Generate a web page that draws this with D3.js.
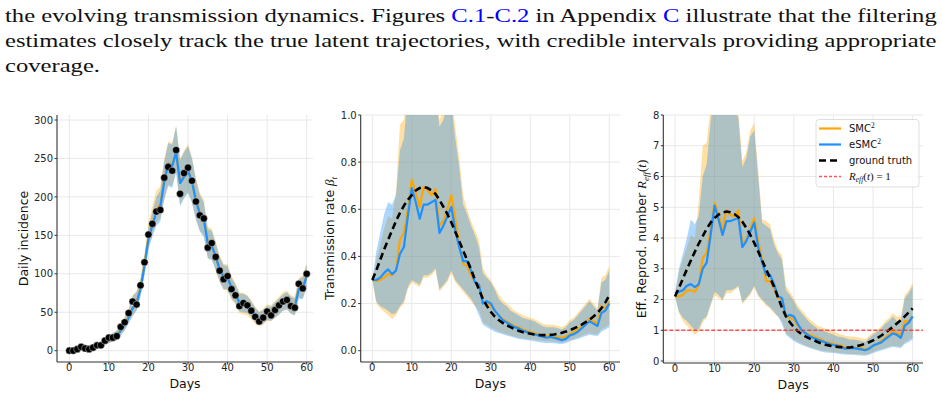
<!DOCTYPE html>
<html>
<head>
<meta charset="utf-8">
<script src="https://cdn.jsdelivr.net/npm/d3@7"></script>
<style>
  body { margin: 0; background: #fff; }
</style>
</head>
<body>
<svg id="fig" width="942" height="397"></svg>
<script>
// ---- data ----
const days = d3.range(0, 61);
const dayTicks = [0, 10, 20, 30, 40, 50, 60];

// daily incidence: observations and filtered predictions
const observed = [0,0,2,5,3,2,4,7,7,13,17,17,19,31,37,49,64,60,85,115,151,165,181,183,225,239,234,261,204,231,238,221,194,176,172,134,140,122,104,93,97,80,72,58,62,59,52,44,38,43,51,46,53,59,64,66,58,56,87,81,100];
const incEsmc = [0,1,2,3,4,4,5,6,8,11,14,17,19,26,33,43,55,62,80,110,145,163,180,187,220,243,240,258,218,226,234,220,195,178,170,140,137,122,106,96,95,82,74,62,62,60,54,47,41,44,49,48,53,58,63,65,59,57,80,81,97];
const incEsmcLo = [0,0,1,2,2,2,3,4,5,8,10,12,14,20,26,36,44,52,70,98,132,148,162,168,196,214,212,232,188,198,205,192,170,155,148,120,118,105,90,80,80,68,62,51,50,49,44,38,33,35,40,39,43,47,52,54,48,46,68,67,82];
const incEsmcHi = [1,2,4,5,6,7,8,10,12,16,20,23,26,34,42,53,71,76,92,122,160,180,200,208,246,270,268,292,248,258,266,250,222,202,193,158,156,140,122,111,110,95,86,74,74,71,64,56,50,53,58,57,63,68,73,76,70,68,93,96,112];
const incSmc = [0,1,2,3,4,4,5,6,8,11,14,17,20,27,34,44,56,63,82,112,148,166,184,190,222,244,241,258,220,228,235,221,197,180,172,142,139,123,107,97,96,83,75,63,61,59,53,46,40,43,48,48,53,58,64,66,60,58,82,82,98];
const incSmcLo = [0,0,1,2,2,2,3,4,5,8,10,12,14,21,27,37,46,53,72,100,135,151,166,172,198,216,214,233,190,200,206,193,172,156,149,121,119,104,89,79,78,66,60,49,47,46,41,35,31,34,39,38,43,47,52,54,48,46,69,68,83];
const incSmcHi = [1,2,4,5,6,7,8,10,12,16,20,23,27,35,44,55,72,78,95,126,166,188,208,214,250,272,270,293,250,260,268,252,225,205,196,161,159,142,124,113,112,97,88,76,75,72,66,57,51,55,60,59,65,70,76,78,72,70,95,98,114];

// transmission rate beta_t
const betaTruth = [0.30,0.34,0.385,0.43,0.47,0.51,0.55,0.585,0.615,0.64,0.66,0.68,0.69,0.695,0.69,0.68,0.665,0.64,0.61,0.58,0.545,0.505,0.465,0.425,0.385,0.345,0.30,0.26,0.22,0.19,0.165,0.145,0.13,0.118,0.108,0.10,0.092,0.085,0.079,0.075,0.072,0.069,0.067,0.066,0.066,0.067,0.069,0.072,0.076,0.081,0.087,0.094,0.102,0.111,0.121,0.132,0.145,0.16,0.18,0.205,0.235];
const betaEsmc = [0.30,0.30,0.31,0.33,0.345,0.325,0.34,0.41,0.44,0.57,0.69,0.63,0.56,0.62,0.62,0.63,0.64,0.50,0.53,0.57,0.61,0.51,0.44,0.38,0.38,0.34,0.29,0.28,0.20,0.21,0.20,0.17,0.15,0.13,0.12,0.11,0.10,0.095,0.085,0.08,0.075,0.07,0.065,0.06,0.055,0.058,0.055,0.05,0.045,0.05,0.065,0.07,0.08,0.095,0.11,0.125,0.115,0.105,0.16,0.17,0.20];
const betaEsmcLo = [0.30,0.21,0.19,0.18,0.17,0.155,0.16,0.19,0.21,0.27,0.30,0.29,0.28,0.32,0.32,0.33,0.35,0.26,0.28,0.30,0.34,0.30,0.28,0.26,0.24,0.22,0.19,0.15,0.11,0.10,0.09,0.08,0.075,0.07,0.065,0.06,0.055,0.05,0.048,0.045,0.043,0.04,0.037,0.035,0.033,0.033,0.032,0.03,0.028,0.032,0.04,0.045,0.05,0.056,0.062,0.068,0.064,0.062,0.08,0.09,0.10];
const betaEsmcHi = [0.30,0.42,0.50,0.58,0.63,0.62,0.66,0.85,0.90,1.10,1.25,1.20,1.15,1.20,1.20,1.15,1.10,0.95,0.98,1.05,1.05,0.90,0.78,0.62,0.58,0.53,0.49,0.44,0.33,0.31,0.29,0.26,0.22,0.20,0.19,0.17,0.16,0.15,0.14,0.135,0.13,0.125,0.115,0.105,0.10,0.10,0.10,0.095,0.09,0.10,0.12,0.13,0.15,0.17,0.19,0.21,0.19,0.17,0.29,0.30,0.34];
const betaSmc = [0.30,0.295,0.30,0.31,0.325,0.32,0.34,0.47,0.50,0.60,0.725,0.67,0.61,0.695,0.68,0.66,0.685,0.53,0.55,0.60,0.66,0.56,0.45,0.37,0.36,0.32,0.29,0.28,0.21,0.20,0.19,0.17,0.15,0.135,0.125,0.115,0.105,0.10,0.09,0.085,0.08,0.075,0.07,0.065,0.063,0.062,0.06,0.058,0.055,0.06,0.07,0.08,0.09,0.105,0.12,0.135,0.125,0.115,0.19,0.18,0.21];
const betaSmcLo = [0.30,0.20,0.18,0.165,0.15,0.135,0.15,0.18,0.20,0.26,0.29,0.28,0.27,0.31,0.31,0.32,0.34,0.25,0.27,0.29,0.33,0.29,0.27,0.25,0.23,0.21,0.19,0.17,0.12,0.11,0.10,0.09,0.08,0.075,0.07,0.065,0.06,0.056,0.053,0.05,0.048,0.046,0.044,0.042,0.04,0.04,0.038,0.036,0.034,0.038,0.046,0.05,0.056,0.062,0.07,0.075,0.07,0.068,0.09,0.10,0.11];
const betaSmcHi = [0.30,0.38,0.45,0.52,0.57,0.56,0.68,0.96,0.98,1.15,1.30,1.25,1.20,1.25,1.25,1.20,1.15,0.98,1.02,1.10,1.10,0.95,0.82,0.66,0.60,0.55,0.51,0.47,0.35,0.32,0.30,0.27,0.24,0.215,0.20,0.185,0.17,0.16,0.15,0.145,0.14,0.135,0.125,0.115,0.11,0.11,0.11,0.105,0.10,0.11,0.13,0.14,0.16,0.18,0.20,0.22,0.20,0.18,0.31,0.32,0.36];

// effective reproduction number R_eff(t)
const rTruth = [2.1,2.38,2.68,2.98,3.27,3.55,3.82,4.06,4.3,4.5,4.65,4.76,4.83,4.86,4.84,4.78,4.68,4.53,4.33,4.1,3.84,3.56,3.27,2.98,2.7,2.42,2.07,1.74,1.45,1.26,1.1,0.97,0.87,0.79,0.73,0.68,0.62,0.57,0.53,0.5,0.48,0.46,0.45,0.44,0.44,0.46,0.49,0.52,0.56,0.61,0.67,0.74,0.82,0.91,1.01,1.11,1.22,1.33,1.45,1.58,1.71];
const rEsmc = [2.2,2.25,2.3,2.45,2.5,2.4,2.5,3.0,3.2,4.1,5.05,4.6,4.1,4.55,4.55,4.6,4.65,3.7,3.9,4.2,4.5,3.7,3.2,2.8,2.8,2.5,2.1,2.05,1.45,1.5,1.45,1.2,1.0,0.9,0.8,0.75,0.7,0.65,0.6,0.55,0.52,0.5,0.45,0.4,0.42,0.42,0.4,0.38,0.35,0.4,0.5,0.55,0.6,0.7,0.8,0.9,0.85,0.75,1.15,1.25,1.45];
const rEsmcLo = [2.1,1.6,1.4,1.3,1.15,1.0,1.05,1.35,1.45,1.85,2.25,2.15,2.0,2.3,2.3,2.35,2.45,1.9,2.05,2.2,2.45,2.15,2.0,1.85,1.75,1.6,1.45,1.2,0.85,0.75,0.65,0.58,0.52,0.47,0.42,0.38,0.34,0.3,0.28,0.27,0.26,0.24,0.22,0.21,0.2,0.2,0.19,0.18,0.17,0.2,0.26,0.3,0.34,0.38,0.42,0.46,0.44,0.42,0.55,0.62,0.7];
const rEsmcHi = [2.2,3.0,3.5,4.0,4.6,4.45,4.7,6.0,6.4,7.8,8.8,8.5,8.2,8.5,8.5,8.2,7.9,6.3,6.6,7.3,7.5,6.0,4.5,4.4,4.3,3.8,3.5,3.3,2.3,2.15,1.95,1.7,1.55,1.4,1.25,1.15,1.05,1.0,0.95,0.9,0.85,0.8,0.78,0.75,0.7,0.7,0.68,0.65,0.62,0.75,0.85,0.95,1.05,1.2,1.3,1.45,1.3,1.3,2.05,2.2,2.45];
const rSmc = [2.1,2.1,2.15,2.3,2.3,2.25,2.45,3.35,3.5,4.3,5.15,4.75,4.3,4.9,4.75,4.7,4.9,3.8,3.95,4.3,4.65,3.9,3.3,2.6,2.6,2.35,2.05,2.0,1.45,1.4,1.35,1.15,1.0,0.9,0.85,0.8,0.75,0.7,0.62,0.6,0.55,0.53,0.5,0.45,0.45,0.44,0.42,0.42,0.38,0.42,0.5,0.55,0.65,0.75,0.85,1.0,0.9,0.85,1.3,1.3,1.45];
const rSmcLo = [2.1,1.55,1.3,1.15,1.0,0.85,0.95,1.25,1.4,1.8,2.15,2.05,1.95,2.2,2.2,2.3,2.4,1.85,2.0,2.15,2.4,2.1,1.95,1.8,1.7,1.55,1.45,1.3,0.9,0.8,0.7,0.62,0.56,0.5,0.45,0.41,0.37,0.34,0.32,0.3,0.29,0.27,0.26,0.24,0.23,0.23,0.22,0.21,0.2,0.23,0.3,0.34,0.38,0.42,0.46,0.5,0.48,0.46,0.6,0.68,0.76];
const rSmcHi = [2.2,2.9,3.3,3.7,4.1,4.0,5.2,7.0,7.1,8.3,9.0,8.8,8.5,8.8,8.8,8.5,8.1,6.5,6.8,7.5,7.75,6.2,4.6,4.55,4.45,3.95,3.6,3.45,2.45,2.25,2.05,1.8,1.65,1.5,1.35,1.25,1.15,1.1,1.05,1.0,0.95,0.9,0.85,0.82,0.8,0.8,0.78,0.75,0.7,0.82,0.92,1.02,1.12,1.28,1.4,1.55,1.45,1.45,2.15,2.3,2.55];

const incTicks = [0, 50, 100, 150, 200, 250, 300];
const betaTicks = [0.0, 0.2, 0.4, 0.6, 0.8, 1.0];
const rTicks = [0, 1, 2, 3, 4, 5, 6, 7, 8];
const legendLabels = ["SMC", "eSMC", "ground truth", "R_eff(t) = 1"];

// ---- style ----
const cOrange = "#ffa500", cBlue = "#1e90ff";
const bandAlpha = 0.36;
const blueLink = "#0000ff";
const sans = "'DejaVu Sans', sans-serif";
const serif = "'Liberation Serif', serif";

const svg = d3.select("#fig");

// ---- paragraph text above the figure ----
const para = svg.append("g");
const paraLines = [];
function textLine(y, parts, justify) {
  const t = para.append("text").attr("x", 0).attr("y", 0)
    .attr("font-family", serif).attr("font-size", 18).attr("fill", "#111");
  parts.forEach(p => {
    t.append("tspan").attr("fill", p[1] ? blueLink : "#111").text(p[0]);
  });
  paraLines.push({t, y, justify, len: t.node().getComputedTextLength()});
}
textLine(21.5, [["the evolving transmission dynamics.  Figures ", 0], ["C.1", 1], ["-", 0], ["C.2", 1], [" in Appendix ", 0], ["C", 1], [" illustrate that the filtering", 0]], true);
textLine(46.5, [["estimates closely track the true latent trajectories, with credible intervals providing appropriate", 0]], true);
textLine(71.5, [["coverage.", 0]], false);
// justified lines are stretched as a whole to the text width (the TeX font is wider than Liberation Serif)
const fullScales = paraLines.filter(l => l.justify).map(l => 932 / l.len);
const meanScale = d3.mean(fullScales);
paraLines.forEach(l => {
  const s = l.justify ? 932 / l.len : meanScale;
  l.t.attr("transform", `translate(5,${l.y}) scale(${s},1)`);
});

// ---- panels ----
function drawPanel(cfg) {
  const g = svg.append("g");
  const x = d3.scaleLinear().domain([0, 60]).range(cfg.xr);
  const y = d3.scaleLinear().domain(cfg.yd).range(cfg.yr);
  const top = 115;

  const clipId = "clip-" + cfg.name;
  svg.append("clipPath").attr("id", clipId).append("rect")
    .attr("x", cfg.left).attr("y", top).attr("width", cfg.right - cfg.left).attr("height", cfg.bottom - top);

  // grid
  g.selectAll(".gx").data(dayTicks).join("line")
    .attr("x1", d => x(d)).attr("x2", d => x(d)).attr("y1", top).attr("y2", cfg.bottom)
    .attr("stroke", "#e8e8e8").attr("stroke-width", 1);
  g.selectAll(".gy").data(cfg.ticks).join("line")
    .attr("x1", cfg.left).attr("x2", cfg.right).attr("y1", d => y(d)).attr("y2", d => y(d))
    .attr("stroke", "#e8e8e8").attr("stroke-width", 1);

  const plot = g.append("g").attr("clip-path", "url(#" + clipId + ")");
  const area = (lo, hi) => d3.area().x((d, i) => x(days[i])).y0((d, i) => y(lo[i])).y1((d, i) => y(hi[i]))(days);
  const line = arr => d3.line().x((d, i) => x(days[i])).y((d, i) => y(arr[i]))(days);

  plot.append("path").attr("d", area(cfg.smcLo, cfg.smcHi)).attr("fill", cOrange).attr("fill-opacity", bandAlpha);
  plot.append("path").attr("d", area(cfg.esmcLo, cfg.esmcHi)).attr("fill", cBlue).attr("fill-opacity", bandAlpha);
  plot.append("path").attr("d", line(cfg.smc)).attr("fill", "none").attr("stroke", cOrange).attr("stroke-width", 2.2).attr("stroke-linejoin", "round");
  plot.append("path").attr("d", line(cfg.esmc)).attr("fill", "none").attr("stroke", cBlue).attr("stroke-width", 2.2).attr("stroke-linejoin", "round");
  if (cfg.truth) {
    plot.append("path").attr("d", line(cfg.truth)).attr("fill", "none").attr("stroke", "#000")
      .attr("stroke-width", 2.6).attr("stroke-dasharray", "7,4");
  }
  if (cfg.refLine != null) {
    plot.append("line").attr("x1", cfg.left).attr("x2", cfg.right).attr("y1", y(cfg.refLine)).attr("y2", y(cfg.refLine))
      .attr("stroke", "#ff2a2a").attr("stroke-opacity", 0.8).attr("stroke-width", 1.3).attr("stroke-dasharray", "4,2");
  }
  if (cfg.obs) {
    plot.selectAll("circle").data(cfg.obs).join("circle")
      .attr("cx", (d, i) => x(days[i])).attr("cy", d => y(d)).attr("r", 3.6)
      .attr("fill", "#000").attr("stroke", "#fff").attr("stroke-width", 0.4);
  }

  // spines
  g.append("line").attr("x1", cfg.left).attr("x2", cfg.left).attr("y1", top).attr("y2", cfg.bottom).attr("stroke", "#333").attr("stroke-width", 1.1);
  g.append("line").attr("x1", cfg.left).attr("x2", cfg.right).attr("y1", cfg.bottom).attr("y2", cfg.bottom).attr("stroke", "#333").attr("stroke-width", 1.1);

  // ticks + labels
  g.selectAll(".tx").data(dayTicks).join("line")
    .attr("x1", d => x(d)).attr("x2", d => x(d)).attr("y1", cfg.bottom).attr("y2", cfg.bottom + 2.5).attr("stroke", "#333");
  g.selectAll(".lx").data(dayTicks).join("text")
    .attr("x", d => x(d)).attr("y", cfg.bottom + 9).attr("text-anchor", "middle")
    .attr("font-family", sans).attr("font-size", 10).attr("fill", "#262626").text(d => d);
  g.selectAll(".ty").data(cfg.ticks).join("line")
    .attr("x1", cfg.left - 2.5).attr("x2", cfg.left).attr("y1", d => y(d)).attr("y2", d => y(d)).attr("stroke", "#333");
  g.selectAll(".ly").data(cfg.ticks).join("text")
    .attr("x", cfg.left - 4).attr("y", d => y(d) + 3.6).attr("text-anchor", "end")
    .attr("font-family", sans).attr("font-size", 10).attr("fill", "#262626").text(d => cfg.fmt(d));

  g.append("text").attr("x", (cfg.left + cfg.right) / 2).attr("y", cfg.bottom + 26)
    .attr("text-anchor", "middle").attr("font-family", sans).attr("font-size", 12.5).attr("fill", "#111").text("Days");

  const yl = g.append("text").attr("transform", `translate(${cfg.ylabX},${(top + cfg.bottom) / 2}) rotate(-90)`)
    .attr("text-anchor", "middle").attr("font-family", sans).attr("font-size", 12.5).attr("fill", "#111");
  cfg.ylabel(yl);
  return {g, x, y};
}

function mathR(t, size, subSize, shift, tail) {
  t.append("tspan").attr("font-family", serif).attr("font-style", "italic").attr("font-size", size).text("R");
  t.append("tspan").attr("dy", shift).attr("font-family", serif).attr("font-style", "italic").attr("font-size", subSize).text("eff");
  t.append("tspan").attr("dy", -shift).attr("font-family", serif).attr("font-size", size).text("(");
  t.append("tspan").attr("font-family", serif).attr("font-style", "italic").attr("font-size", size).text("t");
  t.append("tspan").attr("font-family", serif).attr("font-size", size).text(")" + tail);
}

drawPanel({
  name: "inc", left: 57, right: 313, bottom: 362, xr: [69.3, 306.7], yd: [0, 300], yr: [350.7, 120],
  ticks: incTicks, fmt: d3.format("d"), ylabX: 28,
  smc: incSmc, smcLo: incSmcLo, smcHi: incSmcHi, esmc: incEsmc, esmcLo: incEsmcLo, esmcHi: incEsmcHi,
  obs: observed,
  ylabel: t => t.text("Daily incidence")
});

drawPanel({
  name: "beta", left: 360.7, right: 620, bottom: 362, xr: [372.3, 609.3], yd: [0, 1], yr: [350.7, 115],
  ticks: betaTicks, fmt: d3.format(".1f"), ylabX: 334,
  smc: betaSmc, smcLo: betaSmcLo, smcHi: betaSmcHi, esmc: betaEsmc, esmcLo: betaEsmcLo, esmcHi: betaEsmcHi,
  truth: betaTruth,
  ylabel: t => {
    t.append("tspan").text("Transmission rate ");
    t.append("tspan").attr("font-family", serif).attr("font-style", "italic").attr("font-size", 13).text("β");
    t.append("tspan").attr("dy", 3).attr("font-family", serif).attr("font-style", "italic").attr("font-size", 9).text("t");
  }
});

drawPanel({
  name: "reff", left: 663.3, right: 923, bottom: 363, xr: [675, 912.7], yd: [0, 8], yr: [361, 115],
  ticks: rTicks, fmt: d3.format("d"), ylabX: 646,
  smc: rSmc, smcLo: rSmcLo, smcHi: rSmcHi, esmc: rEsmc, esmcLo: rEsmcLo, esmcHi: rEsmcHi,
  truth: rTruth, refLine: 1,
  ylabel: t => {
    t.append("tspan").text("Eff. Reprod. number ");
    mathR(t, 13, 9, 2.5, "");
  }
});

// ---- legend ----
const lg = svg.append("g");
lg.append("rect").attr("x", 816).attr("y", 119.5).attr("width", 103).attr("height", 67.5).attr("rx", 3)
  .attr("fill", "#fff").attr("fill-opacity", 0.85).attr("stroke", "#d6d6d6").attr("stroke-width", 0.8);
const legRows = [
  {label: legendLabels[0], color: cOrange, w: 2.2, dash: null, sup: "2"},
  {label: legendLabels[1], color: cBlue, w: 2.2, dash: null, sup: "2"},
  {label: legendLabels[2], color: "#000", w: 2.6, dash: "7,4"},
  {label: legendLabels[3], color: "#ff2a2a", w: 1.3, dash: "3,2", math: true}
];
legRows.forEach((r, i) => {
  const yy = 128.5 + i * 16;
  lg.append("line").attr("x1", 819).attr("x2", 841).attr("y1", yy).attr("y2", yy)
    .attr("stroke", r.color).attr("stroke-width", r.w).attr("stroke-dasharray", r.dash)
    .attr("stroke-opacity", r.math ? 0.8 : 1);
  const t = lg.append("text").attr("x", 849).attr("y", yy + 3.6)
    .attr("font-family", sans).attr("font-size", 10).attr("fill", "#111");
  if (r.math) {
    mathR(t, 11, 7.5, 2, " = 1");
  } else {
    t.append("tspan").text(r.label);
    if (r.sup) t.append("tspan").attr("dy", -4).attr("font-family", serif).attr("font-size", 7.5).text(r.sup);
  }
});
</script>
</body>
</html>
